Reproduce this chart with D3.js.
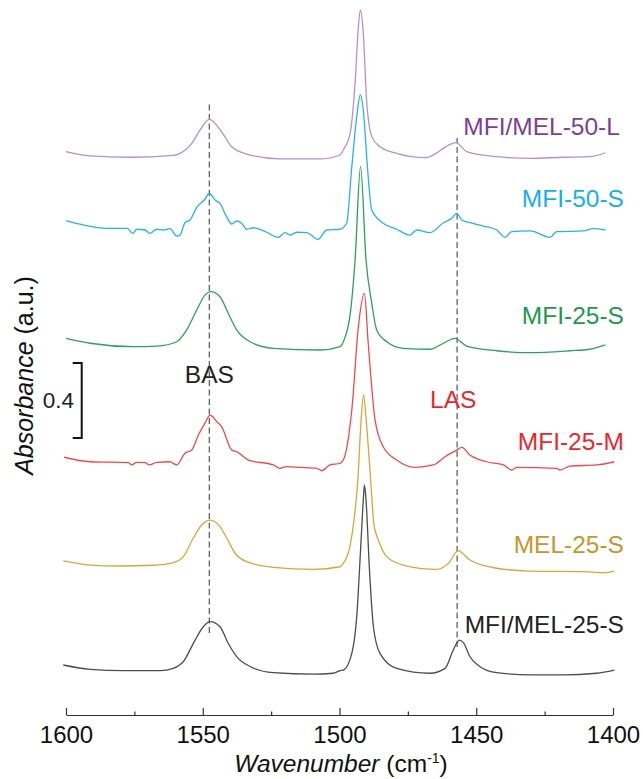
<!DOCTYPE html>
<html>
<head>
<meta charset="utf-8">
<script src="https://cdn.jsdelivr.net/npm/d3@7"></script>
<style>
  html, body { margin: 0; padding: 0; background: #ffffff; }
  svg { display: block; font-family: "Liberation Sans", Arial, Helvetica, sans-serif; }
</style>
</head>
<body>
<div id="chart"></div>
<script>
// ---------------- DATA (wavenumber cm-1, absorbance a.u., stacked as displayed) ----------------
const seriesNames  = ["MFI/MEL-50-L", "MFI-50-S", "MFI-25-S", "MFI-25-M", "MEL-25-S", "MFI/MEL-25-S"];
const lineColors   = ["#b690cd", "#27b3e8", "#2ba25a", "#f0494b", "#d9a53c", "#4d4d4d"];
const labelColors  = ["#7b3f98", "#17afe9", "#1d9a4c", "#e8282d", "#c9952c", "#222222"];

const mfiMel50L = [[1600,3.042],[1591.2,3.019],[1576.6,3.012],[1560.8,3.022],[1558.9,3.029],[1554.0,3.086],[1551.0,3.157],[1547.6,3.214],[1543.1,3.148],[1539.4,3.068],[1533.9,3.029],[1521.8,3.003],[1507.1,3.003],[1499.8,3.024],[1498.6,3.051],[1496.1,3.141],[1494.3,3.408],[1493.1,3.708],[1492.4,3.797],[1491.3,3.675],[1490.1,3.317],[1488.2,3.122],[1485.2,3.068],[1479.1,3.033],[1468.5,3.010],[1465.0,3.030],[1461.5,3.065],[1457.4,3.090],[1453.5,3.042],[1442.5,3.015],[1430.3,3.006],[1418.2,3.012],[1408.4,3.015],[1402.8,3.036]];

const mfi50S = [[1600,2.674],[1593.7,2.651],[1585.1,2.633],[1577.6,2.633],[1575.6,2.606],[1574.1,2.628],[1571.1,2.624],[1569.3,2.606],[1566.8,2.628],[1564.4,2.624],[1562.0,2.631],[1559.5,2.592],[1558.3,2.597],[1556.5,2.663],[1554.7,2.677],[1552.2,2.745],[1549.2,2.788],[1547.6,2.820],[1545.5,2.784],[1543.7,2.766],[1541.3,2.695],[1539.4,2.656],[1537.6,2.672],[1535.8,2.660],[1533.9,2.628],[1531.5,2.636],[1526.6,2.612],[1522.4,2.585],[1519.9,2.610],[1518.1,2.597],[1515.6,2.612],[1512.0,2.610],[1507.8,2.574],[1504.7,2.624],[1499.8,2.628],[1497.4,2.660],[1495.5,2.962],[1493.7,3.228],[1492.4,3.344],[1491.3,3.264],[1489.8,2.962],[1488.2,2.731],[1484.0,2.660],[1479.1,2.628],[1474.2,2.597],[1471.8,2.624],[1466.9,2.610],[1462.0,2.663],[1459.0,2.686],[1457.1,2.713],[1455.3,2.677],[1452.3,2.663],[1447.4,2.645],[1442.5,2.624],[1439.5,2.585],[1437.0,2.615],[1430.3,2.619],[1423.0,2.585],[1420.6,2.615],[1410.9,2.619],[1407.2,2.631],[1402.8,2.624]];

const mfi25S = [[1600,2.046],[1591.2,2.020],[1575.4,2.002],[1566.8,2.005],[1559.5,2.028],[1555.9,2.091],[1552.2,2.197],[1549.2,2.277],[1547.1,2.295],[1543.7,2.268],[1540.7,2.180],[1537.6,2.091],[1532.7,2.028],[1524.2,1.993],[1507.1,1.984],[1499.8,2.002],[1498.6,2.028],[1495.9,2.197],[1494.3,2.464],[1492.3,2.962],[1490.3,2.464],[1488.2,2.233],[1486.4,2.091],[1482.7,2.028],[1476.7,1.993],[1466.9,1.988],[1462.0,2.020],[1457.8,2.046],[1453.5,2.005],[1442.5,1.980],[1430.3,1.970],[1415.7,1.980],[1408.4,1.988],[1402.8,2.011]];

const mfi25M = [[1600.7,1.412],[1591.2,1.388],[1577.2,1.383],[1576.0,1.371],[1574.1,1.385],[1571.1,1.383],[1569.5,1.371],[1566.8,1.385],[1562.0,1.388],[1559.5,1.371],[1556.5,1.433],[1554.0,1.451],[1551.6,1.531],[1549.2,1.593],[1547.3,1.637],[1544.9,1.602],[1543.1,1.575],[1539.4,1.451],[1537.6,1.442],[1533.3,1.397],[1524.2,1.371],[1521.8,1.353],[1519.3,1.362],[1514.4,1.358],[1508.3,1.353],[1506.5,1.340],[1503.5,1.371],[1499.8,1.380],[1498.6,1.397],[1495.5,1.664],[1493.1,2.108],[1490.9,2.286],[1489.5,2.020],[1487.0,1.611],[1484.0,1.468],[1479.1,1.397],[1472.4,1.358],[1465.7,1.371],[1461.4,1.415],[1457.1,1.451],[1455.3,1.465],[1452.3,1.424],[1446.2,1.388],[1440.1,1.371],[1437.0,1.344],[1435.2,1.358],[1420.6,1.353],[1419.4,1.344],[1415.7,1.365],[1406.0,1.371],[1399.5,1.388]];

const mel25S = [[1601.0,0.859],[1591.2,0.837],[1580.3,0.832],[1568.1,0.836],[1560.8,0.850],[1557.1,0.882],[1553.5,0.980],[1550.4,1.051],[1547.3,1.077],[1543.7,1.042],[1541.2,0.980],[1538.2,0.900],[1533.9,0.855],[1524.2,0.825],[1509.6,0.814],[1499.8,0.828],[1498.6,0.846],[1496.2,0.935],[1494.7,1.077],[1493.3,1.291],[1492.1,1.611],[1491.2,1.744],[1490.1,1.584],[1488.6,1.291],[1487.4,1.051],[1485.8,0.971],[1482.7,0.882],[1476.7,0.837],[1464.5,0.814],[1460.2,0.846],[1456.6,0.914],[1455.3,0.903],[1452.3,0.864],[1442.5,0.820],[1430.3,0.805],[1410.9,0.802],[1403.5,0.796],[1399.5,0.805]];

const mfiMel25S = [[1601.0,0.304],[1591.2,0.281],[1579.0,0.274],[1565.6,0.274],[1560.8,0.286],[1557.1,0.322],[1552.8,0.437],[1549.8,0.508],[1547.3,0.535],[1543.7,0.508],[1540.7,0.420],[1537.6,0.349],[1532.7,0.296],[1524.2,0.263],[1509.6,0.255],[1502.3,0.260],[1499.8,0.274],[1498.6,0.277],[1495.5,0.366],[1493.7,0.562],[1492.3,0.917],[1491.3,1.184],[1490.9,1.264],[1490.3,1.184],[1489.1,0.828],[1487.6,0.508],[1485.2,0.366],[1479.1,0.286],[1466.9,0.260],[1461.4,0.286],[1458.4,0.384],[1456.2,0.437],[1454.7,0.423],[1452.3,0.348],[1448.6,0.295],[1442.5,0.263],[1430.3,0.251],[1418.2,0.251],[1406.0,0.260],[1399.5,0.277]];

const seriesValues = [mfiMel50L, mfi50S, mfi25S, mfi25M, mel25S, mfiMel25S];

const majorTicks = [1600, 1550, 1500, 1450, 1400];
const minorTicks = [1575, 1525, 1475, 1425];
const bandNames  = ["BAS", "LAS"];
const bandCenters = [1547.6, 1457.0];
const scaleBarValue = 0.4;

// ---------------- LAYOUT ----------------
const W = 643, H = 779;
const xLeft = 66, xRight = 613, axisY = 715;
const pxPerAU = 187.5, yZero = 722;

const svg = d3.select("#chart").append("svg")
  .attr("width", W).attr("height", H)
  .attr("viewBox", `0 0 ${W} ${H}`);
svg.append("rect").attr("width", W).attr("height", H).attr("fill", "#ffffff");

const x = d3.scaleLinear().domain([1600, 1400]).range([xLeft, xRight]);
const y = d3.scaleLinear().domain([0, 3.85]).range([yZero, yZero - 3.85 * pxPerAU]);

// dashed band guides (drawn first, behind spectra)
const bandSpans = [[0.475, 3.309], [0.40, 3.115]];
svg.append("g").selectAll("line").data(bandCenters).join("line")
  .attr("x1", d => x(d)).attr("x2", d => x(d))
  .attr("y1", (d, i) => y(bandSpans[i][0]))
  .attr("y2", (d, i) => y(bandSpans[i][1]))
  .attr("stroke", "#555").attr("stroke-width", 1.2)
  .attr("stroke-dasharray", "6,3.5");

// spectra
const line = d3.line().x(d => x(d[0])).y(d => y(d[1])).curve(d3.curveMonotoneX);
svg.append("g").selectAll("path").data(seriesValues).join("path")
  .attr("d", line)
  .attr("fill", "none")
  .attr("stroke", (d, i) => lineColors[i])
  .attr("stroke-width", 1.3)
  .attr("stroke-linejoin", "round");

// series labels
const labelAnchor = [[1397.5, 3.131], [1396, 2.748], [1396, 2.123], [1396, 1.451], [1396, 0.900], [1396, 0.476]];
svg.append("g").selectAll("text").data(seriesNames).join("text")
  .attr("x", (d, i) => x(labelAnchor[i][0]))
  .attr("y", (d, i) => y(labelAnchor[i][1]))
  .attr("text-anchor", "end")
  .attr("font-size", 24.5)
  .attr("fill", (d, i) => labelColors[i])
  .text(d => d);

// band labels
const bandLabelPos = [[1547.6, 1.808], [1458.4, 1.673]];
const bandLabelColors = ["#222222", "#e8282d"];
svg.append("g").selectAll("text").data(bandNames).join("text")
  .attr("x", (d, i) => x(bandLabelPos[i][0]))
  .attr("y", (d, i) => y(bandLabelPos[i][1]))
  .attr("text-anchor", "middle")
  .attr("font-size", 24.5)
  .attr("fill", (d, i) => bandLabelColors[i])
  .text(d => d);

// scale bar
const sbBottom = 1.515, sbTop = sbBottom + scaleBarValue;
const sbX = 81.7;
svg.append("path")
  .attr("d", `M${sbX - 9},${y(sbTop)}H${sbX}V${y(sbBottom)}H${sbX - 9}`)
  .attr("fill", "none").attr("stroke", "#111").attr("stroke-width", 2);
svg.append("text")
  .attr("x", 74).attr("y", (y(sbTop) + y(sbBottom)) / 2 + 8)
  .attr("text-anchor", "end").attr("font-size", 22.5).attr("fill", "#222")
  .text(scaleBarValue.toFixed(1));

// x axis
const gAxis = svg.append("g").attr("transform", `translate(0,${axisY})`);
gAxis.call(d3.axisBottom(x).tickValues(majorTicks).tickSize(-7).tickSizeOuter(0).tickPadding(11).tickFormat(d3.format("d")));
gAxis.selectAll("text").attr("font-size", 24).attr("fill", "#111").attr("font-family", "Liberation Sans, Arial, sans-serif");
gAxis.selectAll("path, line").attr("stroke", "#333").attr("stroke-width", 1.2);
const gMinor = svg.append("g").attr("transform", `translate(0,${axisY})`);
gMinor.call(d3.axisBottom(x).tickValues(minorTicks).tickSize(-3.5).tickFormat(""));
gMinor.select(".domain").remove();
gMinor.selectAll("line").attr("stroke", "#333").attr("stroke-width", 1.2);

// axis titles
const xt = svg.append("text").attr("x", 341).attr("y", 772)
  .attr("text-anchor", "middle").attr("font-size", 24.5).attr("fill", "#111");
xt.append("tspan").attr("font-style", "italic").text("Wavenumber");
xt.append("tspan").text(" (cm");
xt.append("tspan").attr("font-size", 14).attr("dy", -9).text("-1");
xt.append("tspan").attr("dy", 9).text(")");

const yt = svg.append("text")
  .attr("transform", `translate(32.5,375.5) rotate(-90)`)
  .attr("text-anchor", "middle").attr("font-size", 25).attr("fill", "#111");
yt.append("tspan").attr("font-style", "italic").text("Absorbance");
yt.append("tspan").text(" (a.u.)");
</script>
</body>
</html>
